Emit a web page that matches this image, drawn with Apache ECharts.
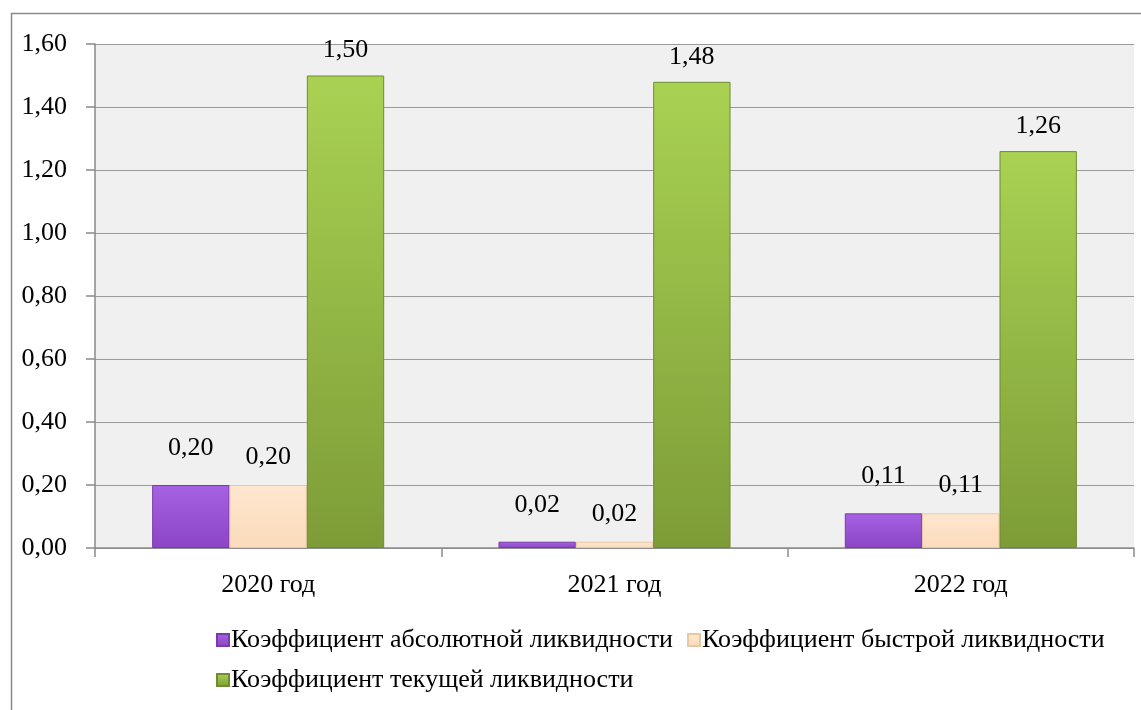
<!DOCTYPE html>
<html><head><meta charset="utf-8">
<script src="https://cdn.jsdelivr.net/npm/echarts@6/dist/echarts.min.js"></script>
<style>html,body{margin:0;padding:0;background:#fff}#c{width:1141px;height:710px}</style>
</head><body><div id="c"></div>
<script>
const categories = ['2020 год', '2021 год', '2022 год'];
const seriesNames = ['Коэффициент абсолютной ликвидности', 'Коэффициент быстрой ликвидности', 'Коэффициент текущей ликвидности'];
const absoluteLiq = [0.20, 0.02, 0.11];
const quickLiq = [0.20, 0.02, 0.11];
const currentLiq = [1.50, 1.48, 1.26];

const FONT = 'Liberation Serif';
const fmt = v => v.toFixed(2).replace('.', ',');

function grad(top, bottom) {
  return new echarts.graphic.LinearGradient(0, 0, 0, 1, [
    {offset: 0, color: top}, {offset: 1, color: bottom}
  ]);
}

const chart = echarts.init(document.getElementById('c'), null, {renderer: 'canvas'});
chart.setOption({
  animation: false,
  backgroundColor: '#ffffff',
  graphic: [{
    type: 'rect', left: 9, top: 11, shape: {x: 0, y: 0, width: 1200, height: 800},
    style: {fill: 'none', stroke: '#8a8a8a', lineWidth: 1.5}, silent: true, z: -1
  }],
  grid: {left: 95, right: 7, top: 44, bottom: 162, show: true, backgroundColor: '#f0f0f0', borderWidth: 0},
  legend: {
    left: 211, top: 622, width: 920,
    itemWidth: 12, itemHeight: 12, itemGap: 14,
    icon: 'rect',
    textStyle: {fontFamily: FONT, fontSize: 26, color: '#000', padding: [0, 0, 0, -3]},
    data: seriesNames
  },
  xAxis: {
    type: 'category', data: categories,
    axisLine: {lineStyle: {color: '#8a8a8a', width: 1.5}},
    axisTick: {show: true, length: 9, lineStyle: {color: '#8a8a8a', width: 1.5}},
    axisLabel: {fontFamily: FONT, fontSize: 26, color: '#000', margin: 24}
  },
  yAxis: {
    type: 'value', min: 0, max: 1.6, interval: 0.2,
    axisLine: {show: true, lineStyle: {color: '#8a8a8a', width: 1.5}},
    axisTick: {show: true, length: 9, lineStyle: {color: '#8a8a8a', width: 1.5}},
    splitLine: {lineStyle: {color: '#9a9a9a', width: 1.2}},
    axisLabel: {fontFamily: FONT, fontSize: 26, color: '#000', margin: 28, formatter: v => fmt(v)}
  },
  series: [
    {
      name: seriesNames[0], type: 'bar', data: absoluteLiq,
      barGap: '0%', barCategoryGap: '33%',
      itemStyle: {color: grad('#a662e2', '#8b45c6'), borderColor: '#7a3aae', borderWidth: 1},
      label: {show: true, position: 'top', distance: 24, fontFamily: FONT, fontSize: 26, color: '#000', formatter: p => fmt(p.value)}
    },
    {
      name: seriesNames[1], type: 'bar', data: quickLiq,
      barGap: '0%', barCategoryGap: '33%',
      itemStyle: {color: grad('#fee7cf', '#fbdbbb'), borderColor: '#e8c8a4', borderWidth: 1},
      label: {show: true, position: 'top', distance: 15, fontFamily: FONT, fontSize: 26, color: '#000', formatter: p => fmt(p.value)}
    },
    {
      name: seriesNames[2], type: 'bar', data: currentLiq,
      barGap: '0%', barCategoryGap: '33%',
      itemStyle: {color: grad('#a9d253', '#7d9c37'), borderColor: '#6f8c30', borderWidth: 1},
      label: {show: true, position: 'top', distance: 12, fontFamily: FONT, fontSize: 26, color: '#000', formatter: p => fmt(p.value)}
    }
  ]
});
</script></body></html>
